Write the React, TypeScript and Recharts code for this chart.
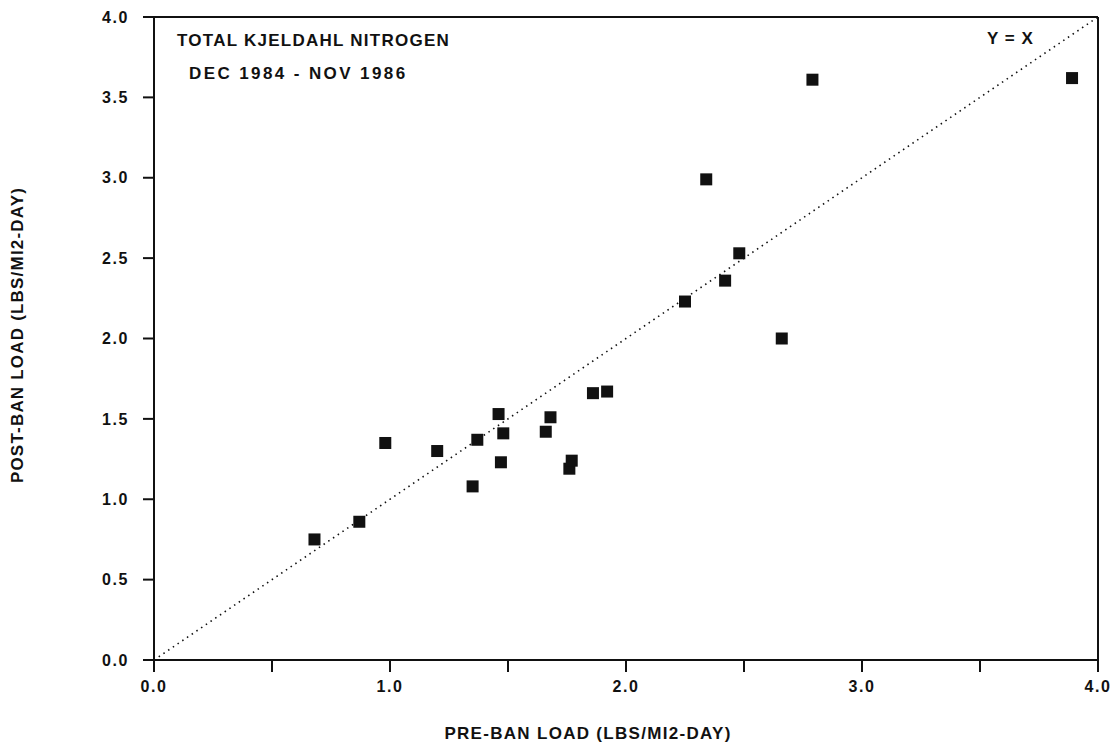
import React from 'react';
import {
    ScatterChart,
    Scatter,
    XAxis,
    YAxis,
    ReferenceLine,
    Customized,
} from 'recharts';

// ─── Data ────────────────────────────────────────────────────────────────────

const preBanLoad = [
    0.68, 0.87, 0.98, 1.2, 1.37, 1.35, 1.46, 1.48, 1.47, 1.66, 1.68,
    1.76, 1.77, 1.86, 1.92, 2.25, 2.42, 2.48, 2.34, 2.66, 2.79, 3.89,
];
const postBanLoad = [
    0.75, 0.86, 1.35, 1.3, 1.37, 1.08, 1.53, 1.41, 1.23, 1.42, 1.51,
    1.19, 1.24, 1.66, 1.67, 2.23, 2.36, 2.53, 2.99, 2.0, 3.61, 3.62,
];

const xTicks = [0, 0.5, 1, 1.5, 2, 2.5, 3, 3.5, 4];
const yTicks = [0, 0.5, 1, 1.5, 2, 2.5, 3, 3.5, 4];

const points = preBanLoad.map((x, i) => ({ x, y: postBanLoad[i] }));

const FONT = '"Liberation Sans", Arial, Helvetica, sans-serif';
const INK = '#111';

// ─── Marker ──────────────────────────────────────────────────────────────────

const SquareMarker = (props: any) => {
    const { cx, cy } = props;
    return <rect x={cx - 6} y={cy - 6} width={12} height={12} fill={INK} />;
};

// ─── Annotations ─────────────────────────────────────────────────────────────

const Annotations = () => (
    <g fontFamily={FONT} fontWeight="bold" fill={INK}>
        <text x={177} y={46} fontSize={17} letterSpacing={1.25}>
            TOTAL KJELDAHL NITROGEN
        </text>
        <text x={189} y={79} fontSize={17} letterSpacing={2.4}>
            DEC 1984 - NOV 1986
        </text>
        <text x={987} y={44} fontSize={17} letterSpacing={1}>
            Y = X
        </text>
    </g>
);

const YTitle = () => {
    const cx = 17;
    const cy = 335;
    return (
        <text
            x={cx}
            y={cy}
            transform={`rotate(-90, ${cx}, ${cy})`}
            textAnchor="middle"
            dominantBaseline="central"
            fontFamily={FONT}
            fontWeight="bold"
            fontSize={17}
            letterSpacing={1.2}
            fill={INK}
        >
            POST-BAN LOAD (LBS/MI2-DAY)
        </text>
    );
};

const XTitle = () => (
    <text
        x={588}
        y={739}
        textAnchor="middle"
        fontFamily={FONT}
        fontWeight="bold"
        fontSize={17}
        letterSpacing={1.3}
        fill={INK}
    >
        PRE-BAN LOAD (LBS/MI2-DAY)
    </text>
);

// ─── Component ───────────────────────────────────────────────────────────────

export default function App() {
    const tickStyle = { fill: INK, fontSize: 16, fontWeight: 'bold', fontFamily: FONT, letterSpacing: 1.6 };
    return (
        <div style={{ position: 'absolute', left: 0, top: 0, background: '#fff' }}>
            <ScatterChart
                width={1119}
                height={744}
                margin={{ top: 17, right: 21, bottom: 44, left: 94 }}
            >
                <XAxis
                    type="number"
                    dataKey="x"
                    domain={[0, 4]}
                    ticks={xTicks}
                    interval={0}
                    height={40}
                    tickSize={12}
                    tickMargin={9}
                    stroke={INK}
                    strokeWidth={2}
                    tick={tickStyle}
                    tickFormatter={(v: number) => (Number.isInteger(v) ? v.toFixed(1) : '')}
                    allowDataOverflow
                />
                <YAxis
                    type="number"
                    dataKey="y"
                    domain={[0, 4]}
                    ticks={yTicks}
                    interval={0}
                    width={60}
                    tickSize={11}
                    tickMargin={14}
                    stroke={INK}
                    strokeWidth={2}
                    tick={tickStyle}
                    tickFormatter={(v: number) => v.toFixed(1)}
                    allowDataOverflow
                />
                <ReferenceLine y={4} stroke={INK} strokeWidth={2} />
                <ReferenceLine x={4} stroke={INK} strokeWidth={2} />
                <ReferenceLine
                    segment={[{ x: 0, y: 0 }, { x: 4, y: 4 }]}
                    stroke={INK}
                    strokeWidth={1.6}
                    strokeDasharray="1.5 4.2"
                />
                <Scatter
                    data={points}
                    fill={INK}
                    shape={<SquareMarker />}
                    isAnimationActive={false}
                />
                <Customized component={Annotations} />
                <Customized component={YTitle} />
                <Customized component={XTitle} />
            </ScatterChart>
        </div>
    );
}
